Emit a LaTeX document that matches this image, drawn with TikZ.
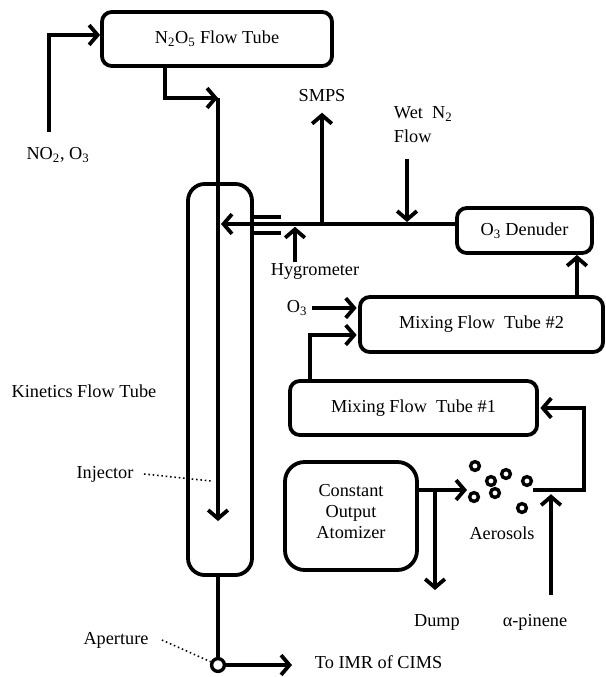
\documentclass[tikz,border=0pt]{standalone}
\usepackage{fontspec}
\setmainfont{Liberation Serif}
\usetikzlibrary{arrows.meta, calc}
\tikzset{
  every picture/.style={font=\fontsize{13}{15}\selectfont},
  tube/.style={draw, line width=2.7pt, rounded corners=7pt, align=center},
  pipe/.style={line width=2.7pt},
  flow/.style={line width=2.7pt, -{Straight Barb[length=6pt, width=14pt]}},
  lead/.style={dotted, line width=1.1pt},
  drop/.style={line width=2.4pt},
}

\begin{document}
\begin{tikzpicture}[x=0.025cm, y=-0.025cm]
  \useasboundingbox (0,0) rectangle (605,677);
  \node[tube, minimum width=5.75cm, minimum height=1.35cm] (n2o5) at (217,39) {N\textsubscript{2}O\textsubscript{5} Flow Tube};
  \node[tube, rounded corners=12pt, minimum width=1.6cm, minimum height=9.775cm] (kin) at (220,379.5) {};
  \node[tube, minimum width=3.375cm, minimum height=1.125cm] (den) at (524.5,230.5) {O\textsubscript{3} Denuder};
  \node[tube, minimum width=6.075cm, minimum height=1.375cm] (mft2) at (481.5,324.5) {Mixing Flow~ Tube \#2};
  \node[tube, minimum width=6.175cm, minimum height=1.35cm] (mft1) at (413.5,408) {Mixing Flow~ Tube \#1};
  \node[tube, rounded corners=14pt, minimum width=3.3cm, minimum height=2.7cm] (atom) at (351,516) {Constant\\Output\\Atomizer\\[-9pt]};
  \node[circle, draw, fill=white, line width=2.4pt, inner sep=0pt, minimum size=0.32cm] (ap) at (218,665) {};

  \node (no2) at (58,155) {NO\textsubscript{2}, O\textsubscript{3}};
  \node (kinlab) at (84,391) {Kinetics Flow Tube};
  \node (injlab) at (105,474) {Injector};
  \node (aplab) at (116,640) {Aperture};
  \node[anchor=west] (imr) at (310,662) {To IMR of CIMS};
  \node (smps) at (322,96) {SMPS};
  \node[anchor=west, align=left] (wet) at (389,125) {Wet~ N\textsubscript{2}\\[2pt]Flow};
  \node (hyg) at (315,271) {Hygrometer};
  \node (o3) at (297,308) {O\textsubscript{3}};
  \node (aer) at (502,533) {Aerosols};
  \node (dump) at (437,622) {Dump};
  \node (pin) at (535,622) {α-pinene};

  \coordinate (no2in) at (49,132);
  \coordinate (ktop) at (218,98);
  \coordinate (kend) at (218,521);
  \coordinate (kinin) at (221,224);
  \coordinate (imrend) at (292,665);
  \coordinate (wettop) at (407,159);
  \coordinate (hygbot) at (295,262);
  \coordinate (up) at ($(mft2.north east)+(-28,0)$);
  \coordinate (m1out) at ($(mft1.north west)+(22,0)$);
  \coordinate (atout) at ($(atom.east)+(0,-26)$);
  \coordinate (aerin) at (467,490);
  \coordinate (dumpend) at (435,590);
  \coordinate (aerout) at (533,490);
  \coordinate (riser) at (584,490);
  \coordinate (pinin) at (551,595);
  \coordinate (injpt) at (211,481);

  \draw[flow] (no2in) |- ($(n2o5.west)+(0,-4)$);
  \draw[flow] ($(n2o5.south)+(-52,0)$) |- (ktop);
  \draw[flow] (ktop) -- (kend);
  \draw[pipe] (ap |- kin.south) -- (ap);
  \draw[flow] (ap) -- (imrend);
  \draw[flow] ($(den.west)+(0,-6.5)$) -- (kinin);
  \foreach \y in {217,233} \draw[pipe] (kin.east |- 0,\y) -- +(27,0);
  \draw[flow, shorten >=4pt] (smps.south |- kinin) -- (smps.south);
  \draw[flow, shorten >=1.4pt] (wettop) -- (wettop |- kinin);
  \draw[flow, shorten >=2pt] (hygbot) -- (hygbot |- kinin);
  \draw[flow] (up) -- (up |- den.south);
  \draw[flow, shorten >=1pt] (o3.east) -- (o3.east -| mft2.west);
  \draw[flow, shorten >=1pt] (m1out) |- ($(mft2.west)+(0,10.5)$);
  \draw[flow] (atout) -- (aerin);
  \draw[flow] (atout -| dumpend) -- (dumpend);
  \draw[flow, shorten >=1pt] (aerout) -- (riser) |- (mft1.east);
  \draw[flow, shorten >=3pt] (pinin) -- (pinin |- aerout);
  \foreach \x/\y in {475/466, 491/481, 506/474, 527/481, 495/493, 474/497, 522/508}
    \draw[drop] (\x,\y) circle[radius=1.1mm];
  \draw[lead] ([xshift=4pt]injlab.east) -- (injpt);
  \draw[lead] ([xshift=6pt]aplab.east) -- (ap);
\end{tikzpicture}
\end{document}
